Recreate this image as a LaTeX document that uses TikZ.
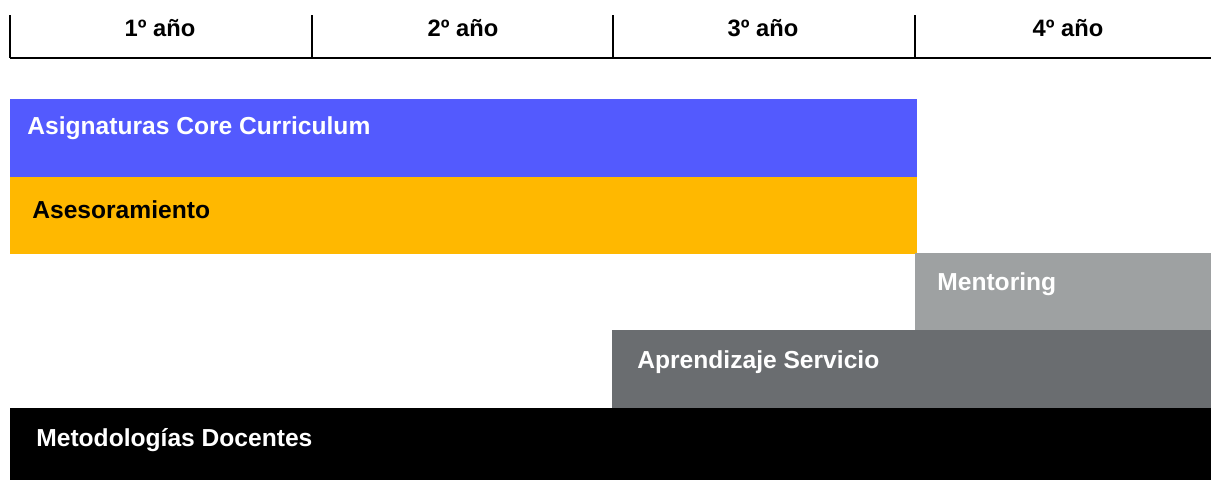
\documentclass[tikz,border=0pt]{standalone}
\usepackage{fontspec}
\setmainfont{Liberation Sans}
\usepackage{xcolor}
\definecolor{coreblue}{RGB}{83,90,254}
\definecolor{aseyellow}{RGB}{255,184,0}
\definecolor{mentgray}{RGB}{158,161,162}
\definecolor{apsgray}{RGB}{106,109,112}

\tikzset{
  yearlabel/.style={font=\bfseries\fontsize{13.5}{15}\selectfont, anchor=center},
  barlabel/.style={font=\bfseries\fontsize{14}{16}\selectfont, anchor=west, inner sep=0pt},
  axisline/.style={line width=1.2pt},
  tickline/.style={line width=0.9pt}
}

\begin{document}
\begin{tikzpicture}[x=0.02cm,y=-0.02cm]
    \useasboundingbox (0,0) rectangle (1211,480);
    % years axis
    \coordinate (axl) at (10,58);
    \coordinate (axr) at (1211,58);
    \draw[axisline] (axl) -- (axr);
    \foreach \x in {10,312,613,915} {
      \draw[tickline] (\x,15) -- (\x,58);
    }
    \foreach \x/\n in {160/1,463/2,763/3,1068/4} {
      \node[yearlabel] (year\n) at (\x,28) {\n º año};
    }
    % bars
    \fill[coreblue] (10,99) rectangle (917,177);
    \fill[aseyellow] (10,177) rectangle (917,254);
    \fill[mentgray] (915,253) rectangle (1211,330);
    \fill[apsgray] (612,330) rectangle (1211,408);
    \fill[black] (10,408) rectangle (1211,480);
    \node[barlabel,white] (core) at (27,128) {Asignaturas Core Curriculum};
    \node[barlabel,black] (ase) at (32,210) {Asesoramiento};
    \node[barlabel,white] (ment) at (937,284) {Mentoring};
    \node[barlabel,white] (aps) at (637,362) {Aprendizaje Servicio};
    \node[barlabel,white] (meto) at (36,440) {Metodologías Docentes};
\end{tikzpicture}
\end{document}
